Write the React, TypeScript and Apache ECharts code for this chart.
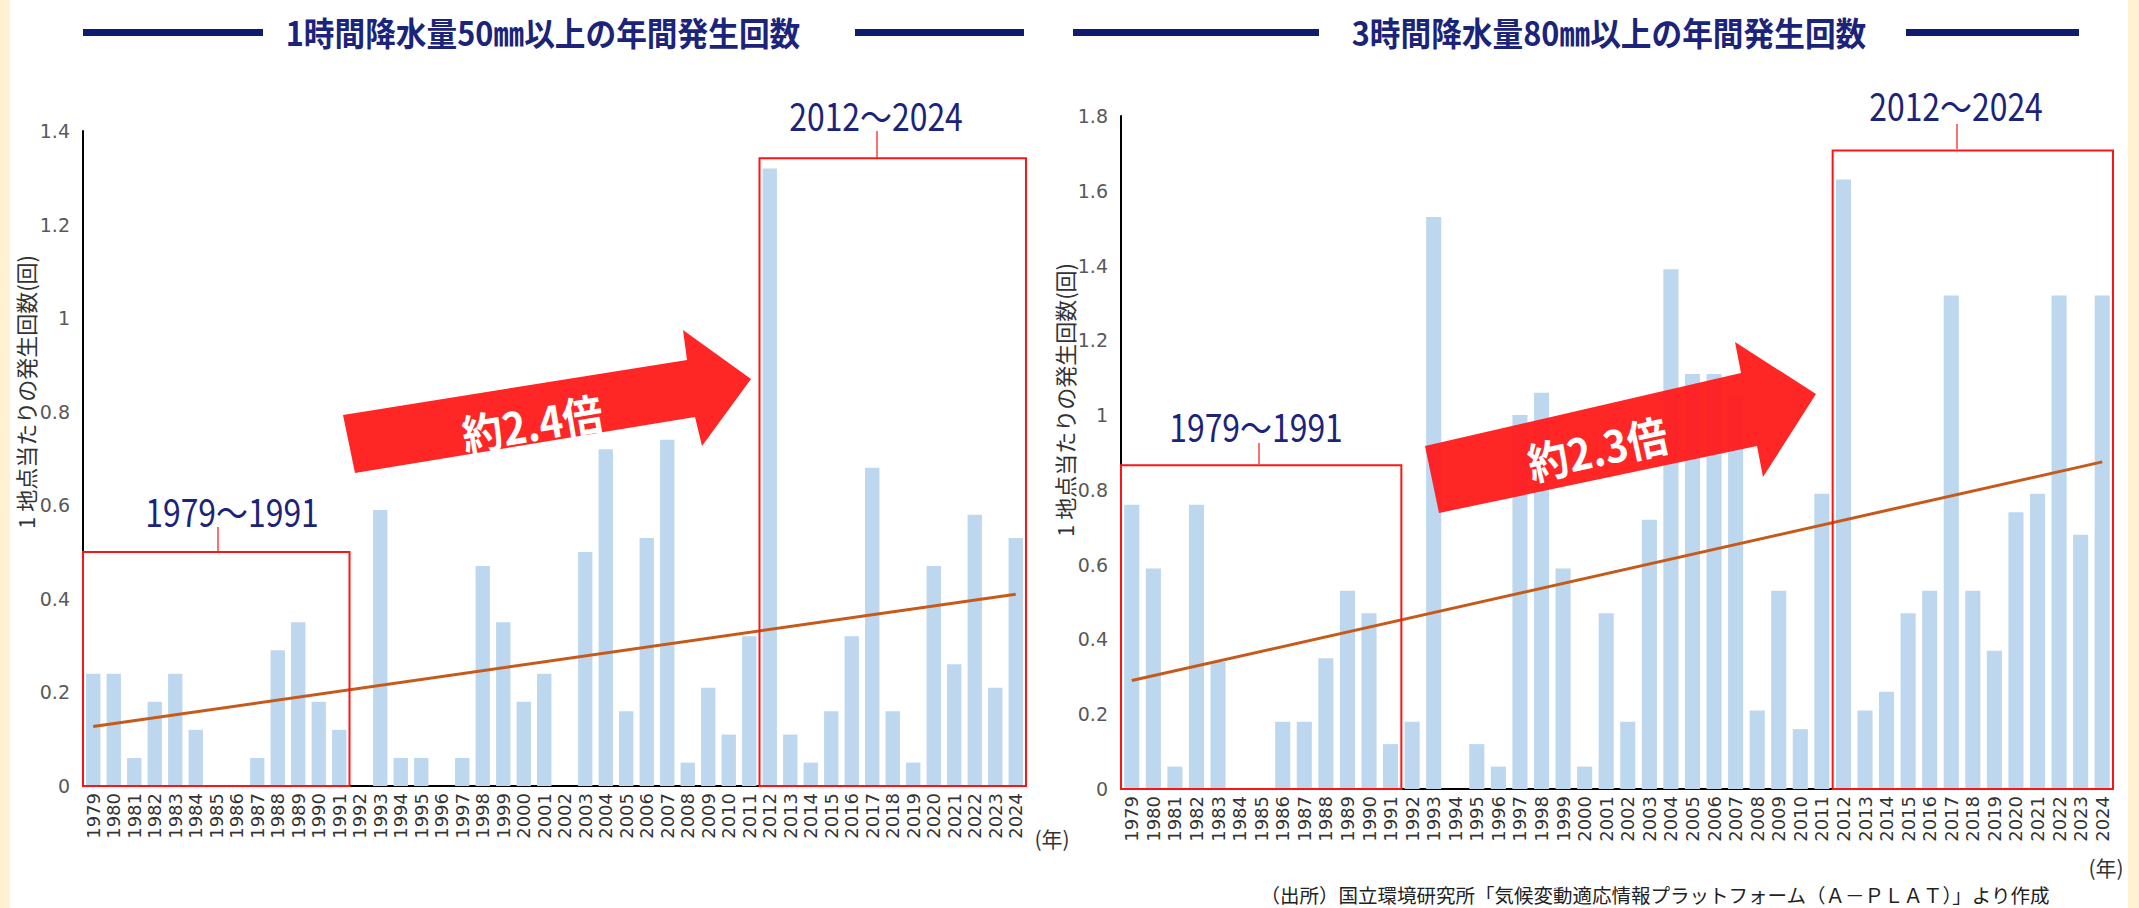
import React, { useEffect, useRef } from "react";
import * as echarts from "echarts";

const years = [
  "1979", "1980", "1981", "1982", "1983", "1984", "1985", "1986", "1987", "1988",
  "1989", "1990", "1991", "1992", "1993", "1994", "1995", "1996", "1997", "1998",
  "1999", "2000", "2001", "2002", "2003", "2004", "2005", "2006", "2007", "2008",
  "2009", "2010", "2011", "2012", "2013", "2014", "2015", "2016", "2017", "2018",
  "2019", "2020", "2021", "2022", "2023", "2024",
];

// 1時間降水量50㎜以上の年間発生回数 (1地点当たり)
const rain1h50 = [
  0.24, 0.24, 0.06, 0.18, 0.24, 0.12, 0, 0, 0.06, 0.29, 0.35, 0.18, 0.12,
  0, 0.59, 0.06, 0.06, 0, 0.06, 0.47, 0.35, 0.18, 0.24, 0, 0.5, 0.72, 0.16, 0.53, 0.74, 0.05, 0.21, 0.11, 0.32,
  1.32, 0.11, 0.05, 0.16, 0.32, 0.68, 0.16, 0.05, 0.47, 0.26, 0.58, 0.21, 0.53,
];

// 3時間降水量80㎜以上の年間発生回数 (1地点当たり)
const rain3h80 = [
  0.76, 0.59, 0.06, 0.76, 0.34, 0, 0, 0.18, 0.18, 0.35, 0.53, 0.47, 0.12,
  0.18, 1.53, 0, 0.12, 0.06, 1.0, 1.06, 0.59, 0.06, 0.47, 0.18, 0.72, 1.39, 1.11, 1.11, 1.05, 0.21, 0.53, 0.16, 0.79,
  1.63, 0.21, 0.26, 0.47, 0.53, 1.32, 0.53, 0.37, 0.74, 0.79, 1.32, 0.68, 1.32,
];

// trend line end points (first year, last year)
const trend1h = [0.127, 0.41];
const trend3h = [0.29, 0.875];

const yMax = [1.4, 1.8];
const periods = [["1979", "1991"], ["2012", "2024"]];
const boxTops = [[0.5, 1.342], [0.866, 1.708]];

const titles = ["1時間降水量50㎜以上の年間発生回数", "3時間降水量80㎜以上の年間発生回数"];
const ratioLabels = ["約2.4倍", "約2.3倍"];
const periodLabels = ["1979〜1991", "2012〜2024"];
const yName = "1 地点当たりの発生回数(回)";
const yearUnit = "(年)";
const source = "（出所）国立環境研究所「気候変動適応情報プラットフォーム（Ａ－ＰＬＡＴ）」より作成";

const BAR = "#BDD7EE";
const TREND = "#C55A1A";
const NAVY = "#1B237A";
const RED = "#FF1414";
const JP = '"Noto Sans CJK JP", "Noto Sans", sans-serif';

function trendData(pair: number[]) {
  return years.map((_, i) => (i === 0 ? pair[0] : i === years.length - 1 ? pair[1] : null));
}

export default function App() {
  const ref = useRef<HTMLDivElement>(null);

  useEffect(() => {
    if (!ref.current) return;
    const chart = echarts.init(ref.current, null, { renderer: "svg" });

    const xAxis = [0, 1].map((g) => ({
      type: "category",
      gridIndex: g,
      data: years,
      axisLine: { lineStyle: { color: "#000", width: 2 } },
      axisTick: { show: false },
      axisLabel: {
        rotate: 90,
        interval: 0,
        fontSize: 18,
        fontFamily: "DejaVu Sans",
        color: "#333",
        margin: 7,
      },
    }));
    const yAxis = [0, 1].map((g) => ({
      type: "value",
      gridIndex: g,
      min: 0,
      max: yMax[g],
      interval: 0.2,
      axisLine: { show: true, lineStyle: { color: "#000", width: 2 } },
      axisTick: { show: false },
      splitLine: { show: false },
      axisLabel: { fontSize: 19, fontFamily: "DejaVu Sans", color: "#595959", margin: 13 },
    }));

    const barSeries = (g: number, data: number[]) => ({
      type: "bar",
      xAxisIndex: g,
      yAxisIndex: g,
      data,
      barCategoryGap: "30%",
      itemStyle: { color: BAR },
      z: 2,
    });
    const lineSeries = (g: number, pair: number[]) => ({
      type: "line",
      xAxisIndex: g,
      yAxisIndex: g,
      data: trendData(pair),
      connectNulls: true,
      symbol: "none",
      lineStyle: { color: TREND, width: 3 },
      z: 3,
    });

    chart.setOption({
      animation: false,
      backgroundColor: "#ffffff",
      grid: [
        { left: 83, top: 131, width: 943, height: 655 },
        { left: 1121, top: 116, width: 992, height: 673 },
      ],
      xAxis,
      yAxis,
      series: [barSeries(0, rain1h50), lineSeries(0, trend1h), barSeries(1, rain3h80), lineSeries(1, trend3h)],
    });

    const px = (g: number, cat: string, v: number) =>
      chart.convertToPixel({ xAxisIndex: g, yAxisIndex: g }, [cat, v]) as number[];

    const boxes: any[] = [];
    [0, 1].forEach((g) => {
      const band = px(g, years[1], 0)[0] - px(g, years[0], 0)[0];
      periods.forEach((p, k) => {
        const a = px(g, p[0], 0);
        const b = px(g, p[1], boxTops[g][k]);
        boxes.push({
          type: "rect",
          z: 50,
          shape: { x: a[0] - band / 2, y: b[1], width: b[0] - a[0] + band, height: a[1] - b[1] },
          style: { fill: "none", stroke: RED, lineWidth: 2 },
        });
      });
    });

    const titleLine = (x: number, w: number) => ({
      type: "rect",
      shape: { x, y: 29, width: w, height: 7 },
      style: { fill: "#0F1C6E" },
    });
    const text = (x: number, y: number, t: string, font: any, extra: any = {}) => ({
      type: "text",
      x,
      y,
      z: 60,
      ...extra,
      style: { text: t, align: "center", verticalAlign: "middle", fontFamily: JP, ...font },
    });
    const connector = (x: number, y1: number, y2: number) => ({
      type: "line",
      z: 50,
      shape: { x1: x, y1, x2: x, y2 },
      style: { stroke: "#FF4040", lineWidth: 1.5 },
    });
    const arrow = (pts: number[][]) => ({
      type: "polygon",
      z: 40,
      shape: { points: pts },
      style: { fill: "#FF1A1A", opacity: 0.95 },
    });

    const graphics: any[] = [
      { type: "rect", z: -1, shape: { x: 0, y: 0, width: 10, height: 908 }, style: { fill: "#FEF2D3" } },
      { type: "rect", z: -1, shape: { x: 2128, y: 0, width: 11, height: 908 }, style: { fill: "#FEF2D3" } },
      titleLine(83, 180),
      titleLine(855, 169),
      titleLine(1073, 246),
      titleLine(1906, 173),
      text(543, 32, titles[0], { fontSize: 33, fontWeight: "bold", fill: NAVY }, { scaleX: 0.93 }),
      text(1609, 32, titles[1], { fontSize: 33, fontWeight: "bold", fill: NAVY }, { scaleX: 0.93 }),
      // y axis names
      text(25, 392, yName, { fontSize: 22, fill: "#333" }, { rotation: Math.PI / 2 }),
      text(1064, 400, yName, { fontSize: 22, fill: "#333" }, { rotation: Math.PI / 2 }),
      // period labels and connectors
      text(232, 510, periodLabels[0], { fontSize: 38, fill: NAVY }, { scaleX: 0.84 }),
      connector(218, 527, 553),
      text(876, 114, periodLabels[1], { fontSize: 38, fill: NAVY }, { scaleX: 0.84 }),
      connector(877, 131, 159),
      text(1256, 425, periodLabels[0], { fontSize: 38, fill: NAVY }, { scaleX: 0.84 }),
      connector(1259, 443, 464),
      text(1956, 104, periodLabels[1], { fontSize: 38, fill: NAVY }, { scaleX: 0.84 }),
      connector(1957, 124, 149),
      // arrows
      arrow([[343, 415], [687, 360], [683, 330], [751, 379], [702, 446], [695, 417], [355, 473]]),
      text(532, 422, ratioLabels[0], { fontSize: 44, fontWeight: "bold", fill: "#fff" }, { rotation: (9.5 * Math.PI) / 180, scaleX: 0.92, z: 70 }),
      arrow([[1425, 446], [1741, 373], [1735, 342], [1816, 394], [1763, 477], [1757, 446], [1439, 513]]),
      text(1597, 447, ratioLabels[1], { fontSize: 44, fontWeight: "bold", fill: "#fff" }, { rotation: (12.5 * Math.PI) / 180, scaleX: 0.92, z: 70 }),
      // unit labels
      text(1052, 838, yearUnit, { fontSize: 21, fill: "#333" }),
      text(2106, 867, yearUnit, { fontSize: 21, fill: "#333" }),
      // source
      text(1655, 894, source, { fontSize: 19.5, fill: "#222" }),
      ...boxes,
    ];

    chart.setOption({ graphic: graphics });

    return () => chart.dispose();
  }, []);

  return (
    <div
      ref={ref}
      style={{ position: "fixed", left: 0, top: 0, width: 2139, height: 908, background: "#fff" }}
    />
  );
}
